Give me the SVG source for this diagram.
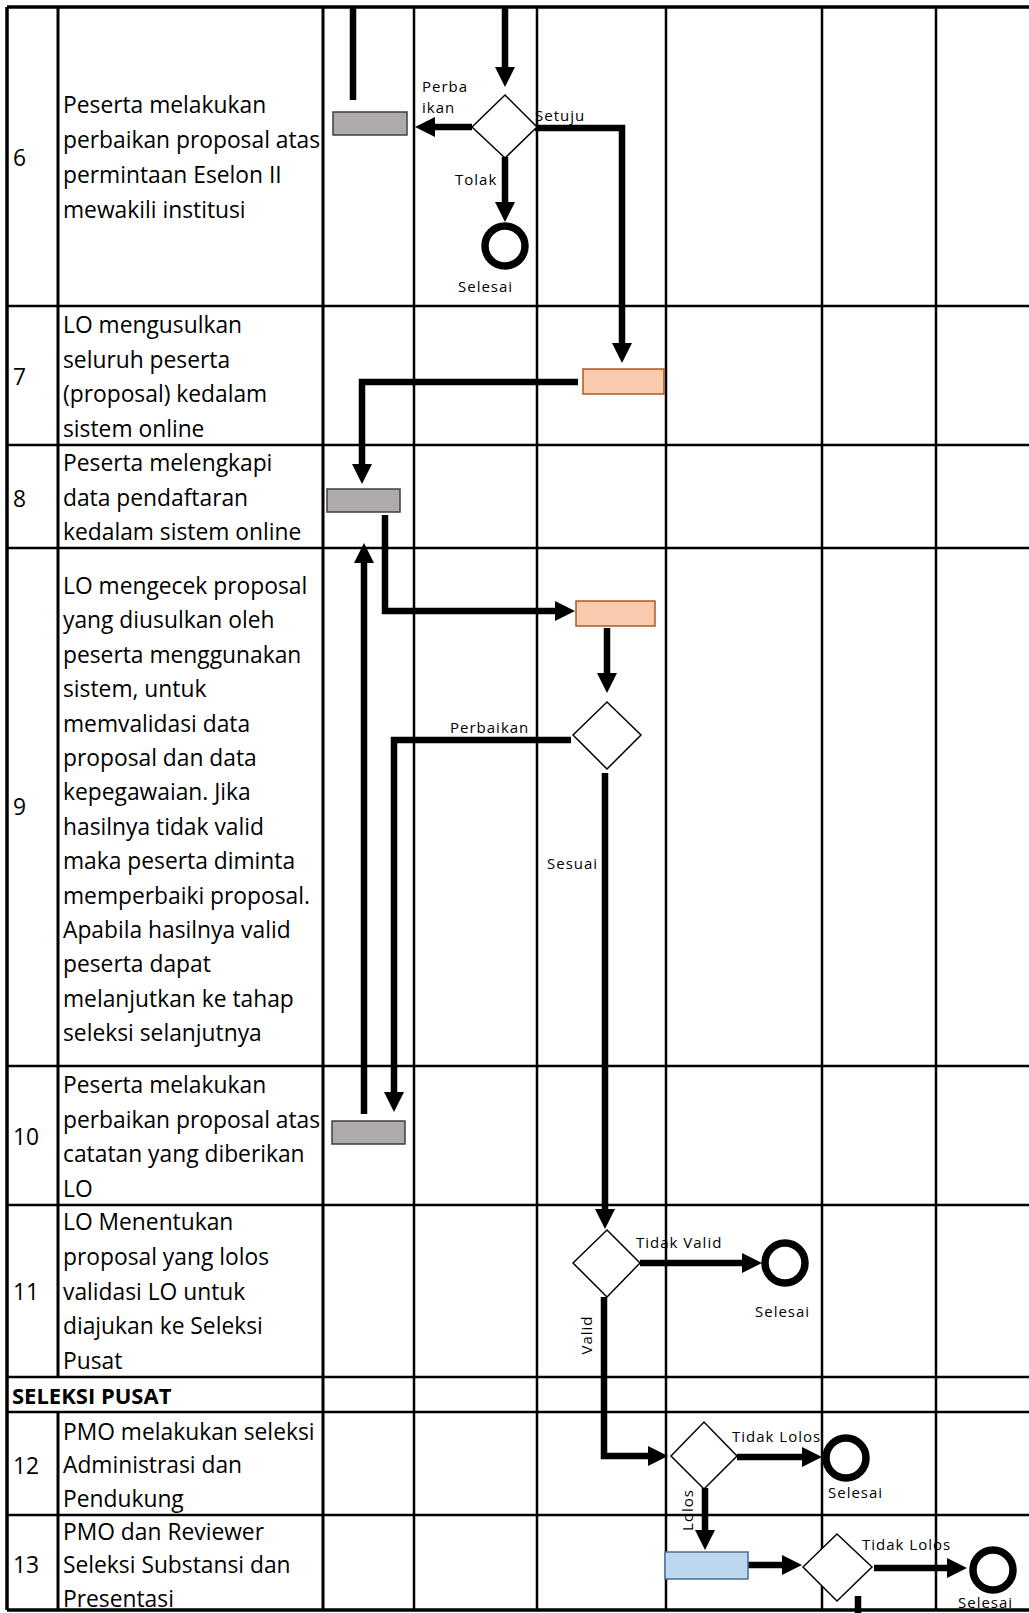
<svg xmlns="http://www.w3.org/2000/svg" width="1029" height="1613" viewBox="0 0 1029 1613">
<style>
  .bg { fill: #ffffff; }
  .grid { stroke: #000; stroke-width: 2.5; fill: none; }
  .gridb { stroke: #000; stroke-width: 3.5; fill: none; }
  .cell { font-family: "Open Sans", "Liberation Sans", sans-serif; font-size: 22.8px; fill: #000; }
  .bold { font-weight: bold; }
  .lbl { font-family: "Open Sans", "Liberation Sans", sans-serif; font-size: 15px; letter-spacing: 1px; fill: #000; }
  .conn { stroke: #000; stroke-width: 6.5; fill: none; stroke-linejoin: miter; }
  .gray { fill: #AEAAAA; stroke: #3F3F3F; stroke-width: 1.5; }
  .orange { fill: #F8CBAD; stroke: #AE5A21; stroke-width: 1.5; }
  .blue { fill: #BDD7EE; stroke: #41719C; stroke-width: 1.5; }
  .dec { fill: #fff; stroke: #000; stroke-width: 1.5; }
  .end { fill: none; stroke: #000; stroke-width: 7.5; }
</style>
<defs>
  <marker id="ah" markerUnits="userSpaceOnUse" markerWidth="20" markerHeight="20" viewBox="0 0 20 20" refX="2" refY="10" orient="auto">
    <path d="M0,0 L20,10 L0,20 z" fill="#000"/>
  </marker>
</defs>
<rect class="bg" x="0" y="0" width="1029" height="1613"/>

<g id="grid">
  <line class="gridb" x1="7" y1="7" x2="1029" y2="7"/>
  <line class="grid" x1="7" y1="306" x2="1029" y2="306"/>
  <line class="grid" x1="7" y1="445" x2="1029" y2="445"/>
  <line class="grid" x1="7" y1="548" x2="1029" y2="548"/>
  <line class="grid" x1="7" y1="1066" x2="1029" y2="1066"/>
  <line class="grid" x1="7" y1="1205" x2="1029" y2="1205"/>
  <line class="grid" x1="7" y1="1377" x2="1029" y2="1377"/>
  <line class="grid" x1="7" y1="1412" x2="1029" y2="1412"/>
  <line class="grid" x1="7" y1="1515" x2="1029" y2="1515"/>
  <line class="gridb" x1="7" y1="1610" x2="1029" y2="1610"/>
  <line class="gridb" x1="7" y1="7" x2="7" y2="1610"/>
  <line class="grid" x1="58" y1="7" x2="58" y2="1377" style="stroke-width:3"/>
  <line class="grid" x1="58" y1="1412" x2="58" y2="1610" style="stroke-width:3"/>
  <line class="grid" x1="323" y1="7" x2="323" y2="1610" style="stroke-width:3"/>
  <line class="grid" x1="414" y1="7" x2="414" y2="1610"/>
  <line class="grid" x1="537" y1="7" x2="537" y2="1610"/>
  <line class="grid" x1="666" y1="7" x2="666" y2="1610"/>
  <line class="grid" x1="822" y1="7" x2="822" y2="1610"/>
  <line class="grid" x1="936" y1="7" x2="936" y2="1610"/>
</g>

<g id="row6" class="cell">
  <text x="13" y="166">6</text>
  <text x="63" y="113">Peserta melakukan</text>
  <text x="63" y="148">perbaikan proposal atas</text>
  <text x="63" y="183">permintaan Eselon II</text>
  <text x="63" y="218">mewakili institusi</text>
</g>
<g id="row7" class="cell">
  <text x="13" y="385">7</text>
  <text x="63" y="333">LO mengusulkan</text>
  <text x="63" y="368">seluruh peserta</text>
  <text x="63" y="402">(proposal) kedalam</text>
  <text x="63" y="437">sistem online</text>
</g>
<g id="row8" class="cell">
  <text x="13" y="507">8</text>
  <text x="63" y="471">Peserta melengkapi</text>
  <text x="63" y="506">data pendaftaran</text>
  <text x="63" y="540">kedalam sistem online</text>
</g>
<g id="row9" class="cell">
  <text x="13" y="815">9</text>
  <text x="63" y="594">LO mengecek proposal</text>
  <text x="63" y="628">yang diusulkan oleh</text>
  <text x="63" y="663">peserta menggunakan</text>
  <text x="63" y="697">sistem, untuk</text>
  <text x="63" y="732">memvalidasi data</text>
  <text x="63" y="766">proposal dan data</text>
  <text x="63" y="800">kepegawaian. Jika</text>
  <text x="63" y="835">hasilnya tidak valid</text>
  <text x="63" y="869">maka peserta diminta</text>
  <text x="63" y="904">memperbaiki proposal.</text>
  <text x="63" y="938">Apabila hasilnya valid</text>
  <text x="63" y="972">peserta dapat</text>
  <text x="63" y="1007">melanjutkan ke tahap</text>
  <text x="63" y="1041">seleksi selanjutnya</text>
</g>
<g id="row10" class="cell">
  <text x="13" y="1145">10</text>
  <text x="63" y="1093">Peserta melakukan</text>
  <text x="63" y="1128">perbaikan proposal atas</text>
  <text x="63" y="1162">catatan yang diberikan</text>
  <text x="63" y="1197">LO</text>
</g>
<g id="row11" class="cell">
  <text x="13" y="1300">11</text>
  <text x="63" y="1230">LO Menentukan</text>
  <text x="63" y="1265">proposal yang lolos</text>
  <text x="63" y="1300">validasi LO untuk</text>
  <text x="63" y="1334">diajukan ke Seleksi</text>
  <text x="63" y="1369">Pusat</text>
</g>
<g id="section-seleksi-pusat" class="cell bold">
  <text x="12" y="1404" style="font-size:22px">SELEKSI PUSAT</text>
</g>
<g id="row12" class="cell">
  <text x="13" y="1474">12</text>
  <text x="63" y="1440">PMO melakukan seleksi</text>
  <text x="63" y="1473">Administrasi dan</text>
  <text x="63" y="1507">Pendukung</text>
</g>
<g id="row13" class="cell">
  <text x="13" y="1573">13</text>
  <text x="63" y="1540">PMO dan Reviewer</text>
  <text x="63" y="1573">Seleksi Substansi dan</text>
  <text x="63" y="1607">Presentasi</text>
</g>

<g id="connectors">
  <path class="conn" d="M353,7 V100"/>
  <path class="conn" d="M505,7 V69" marker-end="url(#ah)"/>
  <path class="conn" d="M472,127 H433" marker-end="url(#ah)"/>
  <path class="conn" d="M505,157 V204" marker-end="url(#ah)"/>
  <path class="conn" d="M535,128 H622 V345" marker-end="url(#ah)"/>
  <path class="conn" d="M578,382 H362 V466" marker-end="url(#ah)"/>
  <path class="conn" d="M385,515 V611 H557" marker-end="url(#ah)"/>
  <path class="conn" d="M607,628 V675" marker-end="url(#ah)"/>
  <path class="conn" d="M571,740 H394 V1094" marker-end="url(#ah)"/>
  <path class="conn" d="M364,1114 V561" marker-end="url(#ah)"/>
  <path class="conn" d="M605,773 V1211" marker-end="url(#ah)"/>
  <path class="conn" d="M640,1263 H744" marker-end="url(#ah)"/>
  <path class="conn" d="M604,1297 V1456 H650" marker-end="url(#ah)"/>
  <path class="conn" d="M737,1457 H804" marker-end="url(#ah)"/>
  <path class="conn" d="M705,1488 V1532" marker-end="url(#ah)"/>
  <path class="conn" d="M748,1565 H784" marker-end="url(#ah)"/>
  <path class="conn" d="M874,1568 H949" marker-end="url(#ah)"/>
  <path class="conn" d="M858,1596 V1613"/>
</g>

<g id="node-peserta-perbaikan-6"><rect class="gray" x="333" y="112" width="74" height="23"/></g>
<g id="node-decision-6"><polygon class="dec" points="472,127 505,95 537,127 505,158"/></g>
<g id="node-end-6"><circle class="end" cx="505" cy="246" r="20"/></g>
<g id="node-lo-usul-7"><rect class="orange" x="583" y="369" width="81" height="25"/></g>
<g id="node-peserta-lengkapi-8"><rect class="gray" x="327" y="489" width="73" height="23"/></g>
<g id="node-lo-cek-9"><rect class="orange" x="576" y="601" width="79" height="25"/></g>
<g id="node-decision-9"><polygon class="dec" points="573,735 607,702 641,735 607,769"/></g>
<g id="node-peserta-perbaikan-10"><rect class="gray" x="332" y="1121" width="73" height="23"/></g>
<g id="node-decision-11"><polygon class="dec" points="573,1263 607,1230 640,1263 607,1297"/></g>
<g id="node-end-11"><circle class="end" cx="785" cy="1263" r="20"/></g>
<g id="node-decision-12"><polygon class="dec" points="671,1456 704,1422 737,1456 704,1489"/></g>
<g id="node-end-12"><circle class="end" cx="846" cy="1458" r="20"/></g>
<g id="node-seleksi-substansi-13"><rect class="blue" x="665" y="1552" width="83" height="27"/></g>
<g id="node-decision-13"><polygon class="dec" points="803,1567 837,1534 872,1567 837,1601"/></g>
<g id="node-end-13"><circle class="end" cx="993" cy="1570" r="20"/></g>

<g id="labels" class="lbl">
  <text x="422" y="92">Perba</text>
  <text x="422" y="113">ikan</text>
  <text x="535" y="121">Setuju</text>
  <text x="455" y="185">Tolak</text>
  <text x="458" y="292">Selesai</text>
  <text x="450" y="733">Perbaikan</text>
  <text x="547" y="869">Sesuai</text>
  <text x="636" y="1248">Tidak Valid</text>
  <text x="755" y="1317">Selesai</text>
  <text x="592" y="1335" text-anchor="middle" transform="rotate(-90 592 1335)">Valid</text>
  <text x="732" y="1442">Tidak Lolos</text>
  <text x="828" y="1498">Selesai</text>
  <text x="693" y="1510" text-anchor="middle" transform="rotate(-90 693 1510)">Lolos</text>
  <text x="862" y="1550">Tidak Lolos</text>
  <text x="958" y="1608">Selesai</text>
</g>
</svg>
